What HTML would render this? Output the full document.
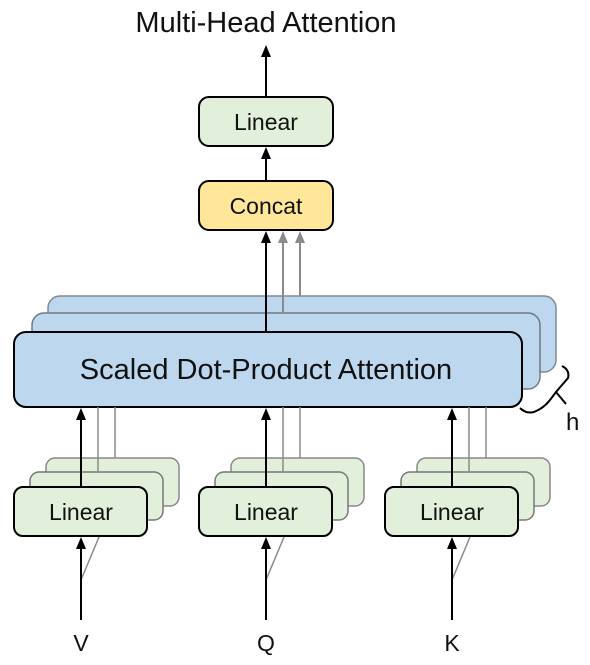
<!DOCTYPE html>
<html><head><style>body{margin:0;background:#fff}</style></head><body>
<svg width="590" height="660" xmlns="http://www.w3.org/2000/svg" font-family="Liberation Sans, sans-serif">
<defs>
<path id="ah" d="M-5,12 L0,0 L5,12Z"/>
</defs>
<text x="266" y="32" font-size="29" text-anchor="middle" fill="#111">Multi-Head Attention</text>
<line x1="266" y1="97" x2="266" y2="55" stroke="#000" stroke-width="2"/>
<use href="#ah" x="266" y="45" fill="#000"/>
<rect x="199" y="97" width="134" height="49" rx="10" fill="#e2efda" stroke="#000" stroke-width="2"/>
<text x="266" y="130" font-size="23" text-anchor="middle" fill="#111">Linear</text>
<line x1="266" y1="181" x2="266" y2="158" stroke="#000" stroke-width="2"/>
<use href="#ah" x="266" y="147" fill="#000"/>
<rect x="199" y="181" width="134" height="49" rx="10" fill="#ffe699" stroke="#000" stroke-width="2"/>
<text x="266" y="214" font-size="23" text-anchor="middle" fill="#111">Concat</text>
<!-- attention stack -->
<rect x="48" y="296" width="508" height="76" rx="12" fill="#bdd7ee" stroke="#7f8a96" stroke-width="1.5"/>
<rect x="32" y="313" width="508" height="76" rx="12" fill="#bdd7ee" stroke="#6f7a86" stroke-width="1.5"/>
<line x1="300" y1="296" x2="300" y2="242" stroke="#8a8a8a" stroke-width="2"/>
<use href="#ah" x="300" y="231" fill="#8a8a8a"/>
<line x1="283" y1="313" x2="283" y2="242" stroke="#8a8a8a" stroke-width="2"/>
<use href="#ah" x="283" y="231" fill="#8a8a8a"/>
<rect x="14" y="332" width="508" height="75" rx="12" fill="#bdd7ee" stroke="#000" stroke-width="2"/>
<line x1="266" y1="332" x2="266" y2="242" stroke="#000" stroke-width="2"/>
<use href="#ah" x="266" y="231" fill="#000"/>
<text x="266" y="379" font-size="29" text-anchor="middle" fill="#111">Scaled Dot-Product Attention</text>
<path d="M562,366 Q570,370 568,378 L556,392 L550,400 Q544,408 534,412 Q526,414 520,408 M556,392 L566,404" fill="none" stroke="#000" stroke-width="2"/>
<text x="566" y="430" font-size="24" fill="#111">h</text>
<!-- linears -->
<g id="L">
<rect x="46" y="458" width="133" height="48" rx="9" fill="#e2efda" stroke="#888" stroke-width="1.5"/>
<rect x="30" y="472" width="133" height="48" rx="9" fill="#e2efda" stroke="#777" stroke-width="1.5"/>
<line x1="115" y1="458" x2="115" y2="407" stroke="#8a8a8a" stroke-width="1.5"/>
<line x1="98" y1="472" x2="98" y2="407" stroke="#8a8a8a" stroke-width="1.5"/>
<rect x="14" y="487" width="133" height="49" rx="9" fill="#e2efda" stroke="#000" stroke-width="2"/>
<line x1="81" y1="487" x2="81" y2="419" stroke="#000" stroke-width="2"/>
<use href="#ah" x="81" y="408" fill="#000"/>
<text x="81" y="520" font-size="23" text-anchor="middle" fill="#111">Linear</text>
<line x1="81" y1="580" x2="99" y2="537" stroke="#8a8a8a" stroke-width="1.5"/>
<line x1="81" y1="620" x2="81" y2="548" stroke="#000" stroke-width="2"/>
<use href="#ah" x="81" y="537" fill="#000"/>
</g>
<use href="#L" x="185"/>
<use href="#L" x="371"/>
<text x="81" y="651" font-size="23" text-anchor="middle" fill="#111">V</text>
<text x="266" y="651" font-size="23" text-anchor="middle" fill="#111">Q</text>
<text x="452" y="651" font-size="23" text-anchor="middle" fill="#111">K</text>
</svg>
</body></html>
